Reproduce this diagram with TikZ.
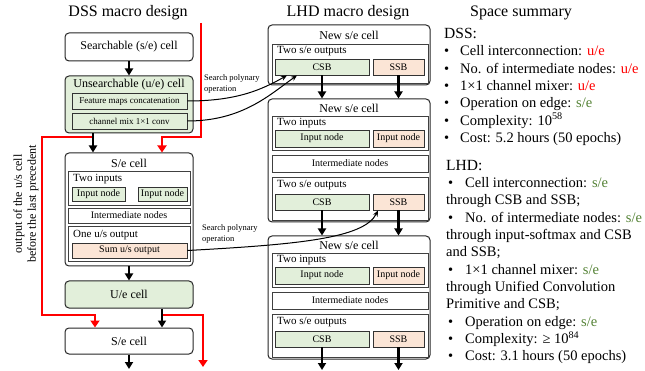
\documentclass[tikz,border=0pt]{standalone}
\usepackage{fontspec}
\setmainfont{Liberation Serif}
\usetikzlibrary{arrows.meta}
\definecolor{gfill}{RGB}{226,239,218}
\definecolor{pfill}{RGB}{251,229,214}
\definecolor{ured}{RGB}{255,0,0}
\definecolor{sgreen}{RGB}{84,130,53}
\newcommand{\bul}{\makebox[16pt][l]{\textbullet}}
\newcommand{\bulb}{\hspace*{2pt}\makebox[17pt][l]{\textbullet}}
\tikzset{
  head/.style={font=\fontsize{16}{18}\selectfont, inner sep=0pt},
  cellbox/.style={draw=black!85, line width=1pt, rounded corners=4pt, fill=white, inner sep=0pt, minimum width=128pt, font=\fontsize{12}{14}\selectfont},
  celltitle/.style={font=\fontsize{12}{14}\selectfont, inner sep=0pt},
  panel/.style={draw=black!75, line width=0.9pt, fill=white, inner sep=0pt, font=\fontsize{10}{12}\selectfont},
  plabel/.style={anchor=west, inner sep=0pt, font=\fontsize{11}{13}\selectfont},
  gbox/.style={draw=black!80, line width=0.9pt, fill=gfill, inner sep=0pt, font=\fontsize{10}{12}\selectfont},
  pbox/.style={gbox, fill=pfill},
  flow/.style={line width=2.2pt, -{Triangle[width=8pt,length=7pt]}},
  redflow/.style={ured, line width=2.8pt, -{Triangle[width=9pt,length=7pt]}},
  search/.style={line width=1pt, -{Stealth[width=5pt,length=6pt]}},
  slabel/.style={anchor=west, align=left, inner sep=0pt, font=\fontsize{8.5}{11}\selectfont},
  listtext/.style={anchor=west, align=left, inner sep=0pt, font=\fontsize{14.5}{17.3}\selectfont}
}
\begin{document}
\begin{tikzpicture}[x=1pt,y=-1pt]
\useasboundingbox (0,0) rectangle (645,371);
% titles
\node[head] (dsstitle) at (128,13) {DSS macro design};
\node[head] (lhdtitle) at (348,13) {LHD macro design};
\node[head] (sumtitle) at (521,13) {Space summary};

% DSS column
\node[cellbox, minimum height=28pt] (searchable) at (129,47) {Searchable (s/e) cell};
\node[cellbox, fill=gfill, minimum height=57pt] (unsearch) at (129,104.5) {};
\node[celltitle] (unsearchtitle) at (129,85) {Unsearchable (u/e) cell};
\node[gbox, minimum width=115pt, minimum height=16pt, font=\fontsize{9}{11}\selectfont] (feat) at (129.5,101) {Feature maps concatenation};
\node[gbox, minimum width=115pt, minimum height=16pt, font=\fontsize{9}{11}\selectfont] (mix) at (129.5,121) {channel mix 1×1 conv};

\node[cellbox, minimum height=113pt] (secell) at (129,209.5) {};
\node[celltitle] (setitle) at (129,163) {S/e cell};
\node[panel, minimum width=122pt, minimum height=34pt] (sein) at (129,188) {};
\node[plabel] (seinlabel) at (73,179) {Two inputs};
\node[gbox, minimum width=53pt, minimum height=14pt] (in1) at (98.5,194) {Input node};
\node[gbox, minimum width=49pt, minimum height=14pt] (in2) at (162.5,194) {Input node};
\node[panel, minimum width=122pt, minimum height=15pt] (inter) at (129,215.5) {Intermediate nodes};
\node[panel, minimum width=122pt, minimum height=35pt] (seout) at (129,243.5) {};
\node[plabel] (seoutlabel) at (73,235) {One u/s output};
\node[pbox, minimum width=115pt, minimum height=15pt] (sum) at (129.5,250.5) {Sum u/s output};

\node[cellbox, fill=gfill, minimum height=27pt] (uecell) at (129,294.5) {U/e cell};
\node[cellbox, minimum height=26pt] (secell2) at (129,341) {S/e cell};

\node[rotate=90, align=center, inner sep=0pt, font=\fontsize{12}{14}\selectfont] (prec) at (26,204) {output of the u/s cell\\before the last precedent};

% red paths
\coordinate (ua) at (93,0);
\coordinate (ub) at (162,0);
\coordinate (uc) at (95,0);
\coordinate (rtop) at (201,23);
\coordinate (rbend) at (201,137);
\coordinate (lstart) at (93,137);
\coordinate (lcorner) at (42,315);
\coordinate (rstart) at (162,315);
\coordinate (rend) at (203,367);
\draw[redflow] (rtop) -- (rbend) -| (secell.north -| ub);
\draw[redflow] (lstart) -| (lcorner) -| (secell2.north -| uc);
\draw[redflow] (rstart) -| (rend);

% black flow
\coordinate (dssend) at (129,369);
\draw[flow] (searchable) -- (unsearch);
\draw[flow] (unsearch.south -| ua) -- (secell.north -| ua);
\draw[flow] (secell) -- (uecell);
\draw[flow] (uecell.south -| ub) -- (secell2.north -| ub);
\draw[flow] (secell2) -- (dssend);

% LHD column
\node[cellbox, minimum width=162pt, minimum height=60pt] (lcell1) at (349,55) {};
\node[celltitle] (lcell1title) at (349,35) {New s/e cell};
\node[panel, minimum width=156pt, minimum height=39pt] (lout1) at (350,63.5) {};
\node[plabel] (lout1label) at (277,51) {Two s/e outputs};
\node[gbox, minimum width=94pt, minimum height=16pt] (csb1) at (322,67) {CSB};
\node[pbox, minimum width=51pt, minimum height=16pt] (ssb1) at (398.5,67) {SSB};

\node[cellbox, minimum width=162pt, minimum height=123pt] (lcell2) at (349,160.5) {};
\node[celltitle] (lcell2title) at (349,108) {New s/e cell};
\node[panel, minimum width=156pt, minimum height=34pt] (lin2) at (350,133.5) {};
\node[plabel] (lin2label) at (277,123) {Two inputs};
\node[gbox, minimum width=94pt, minimum height=17pt] (lgin2) at (322,138.5) {Input node};
\node[pbox, minimum width=51pt, minimum height=17pt] (lpin2) at (398.5,138.5) {Input node};
\node[panel, minimum width=156pt, minimum height=17pt] (linter2) at (350,163.5) {Intermediate nodes};
\node[panel, minimum width=156pt, minimum height=43pt] (lout2) at (350,198.5) {};
\node[plabel] (lout2label) at (277,185) {Two s/e outputs};
\node[gbox, minimum width=94pt, minimum height=16pt] (csb2) at (322,202) {CSB};
\node[pbox, minimum width=51pt, minimum height=16pt] (ssb2) at (398.5,202) {SSB};

\node[cellbox, minimum width=162pt, minimum height=123pt] (lcell3) at (349,297.5) {};
\node[celltitle] (lcell3title) at (349,245) {New s/e cell};
\node[panel, minimum width=156pt, minimum height=34pt] (lin3) at (350,270.5) {};
\node[plabel] (lin3label) at (277,260) {Two inputs};
\node[gbox, minimum width=94pt, minimum height=17pt] (lgin3) at (322,275.5) {Input node};
\node[pbox, minimum width=51pt, minimum height=17pt] (lpin3) at (398.5,275.5) {Input node};
\node[panel, minimum width=156pt, minimum height=17pt] (linter3) at (350,300.5) {Intermediate nodes};
\node[panel, minimum width=156pt, minimum height=43pt] (lout3) at (350,335.5) {};
\node[plabel] (lout3label) at (277,322) {Two s/e outputs};
\node[gbox, minimum width=94pt, minimum height=16pt] (csb3) at (322,339) {CSB};
\node[pbox, minimum width=51pt, minimum height=16pt] (ssb3) at (398.5,339) {SSB};

\coordinate (lhdend) at (0,370);
\draw[flow] (csb1.south) -- (lcell2.north -| csb1);
\draw[flow] (ssb1.south) -- (lcell2.north -| ssb1);
\draw[flow] (csb2.south) -- (lcell3.north -| csb2);
\draw[flow] (ssb2.south) -- (lcell3.north -| ssb2);
\draw[flow] (csb3.south) -- (lhdend -| csb3);
\draw[flow] (ssb3.south) -- (lhdend -| ssb3);

% search polynary operation
\node[slabel] (srch1) at (204,83.5) {Search polynary\\operation};
\node[slabel] (srch2) at (202,233.5) {Search polynary\\operation};
\draw[search] (feat.east) .. controls +(50,0) and +(-25,14) .. ([xshift=-35pt]csb1.south);
\draw[search] (mix.east) .. controls +(55,0) and +(-27,19) .. ([xshift=-25pt]csb1.south);
\draw[search] (sum.east) .. controls +(110,-6) and +(-14,28) .. ([xshift=-20.5pt]ssb2.south);

% space summary
\node[listtext] (dsslist) at (444,87) {{\fontsize{15.5}{17.3}\selectfont DSS:}\\
\bul Cell interconnection: \textcolor{ured}{u/e}\\
\bul No. of intermediate nodes: \textcolor{ured}{u/e}\\
\bul 1×1 channel mixer: \textcolor{ured}{u/e}\\
\bul Operation on edge: \textcolor{sgreen}{s/e}\\
\bul Complexity: 10\textsuperscript{58}\\
\bul Cost: 5.2 hours (50 epochs)};
\node[listtext] (lhdlist) at (446,262) {{\fontsize{15.5}{17.3}\selectfont LHD:}\\
\bulb Cell interconnection: \textcolor{sgreen}{s/e}\\
through CSB and SSB;\\
\bulb No. of intermediate nodes: \textcolor{sgreen}{s/e}\\
through input-softmax and CSB\\
and SSB;\\
\bulb 1×1 channel mixer: \textcolor{sgreen}{s/e}\\
through Unified Convolution\\
Primitive and CSB;\\
\bulb Operation on edge: \textcolor{sgreen}{s/e}\\
\bulb Complexity: ≥ 10\textsuperscript{84}\\
\bulb Cost: 3.1 hours (50 epochs)};
\end{tikzpicture}
\end{document}
